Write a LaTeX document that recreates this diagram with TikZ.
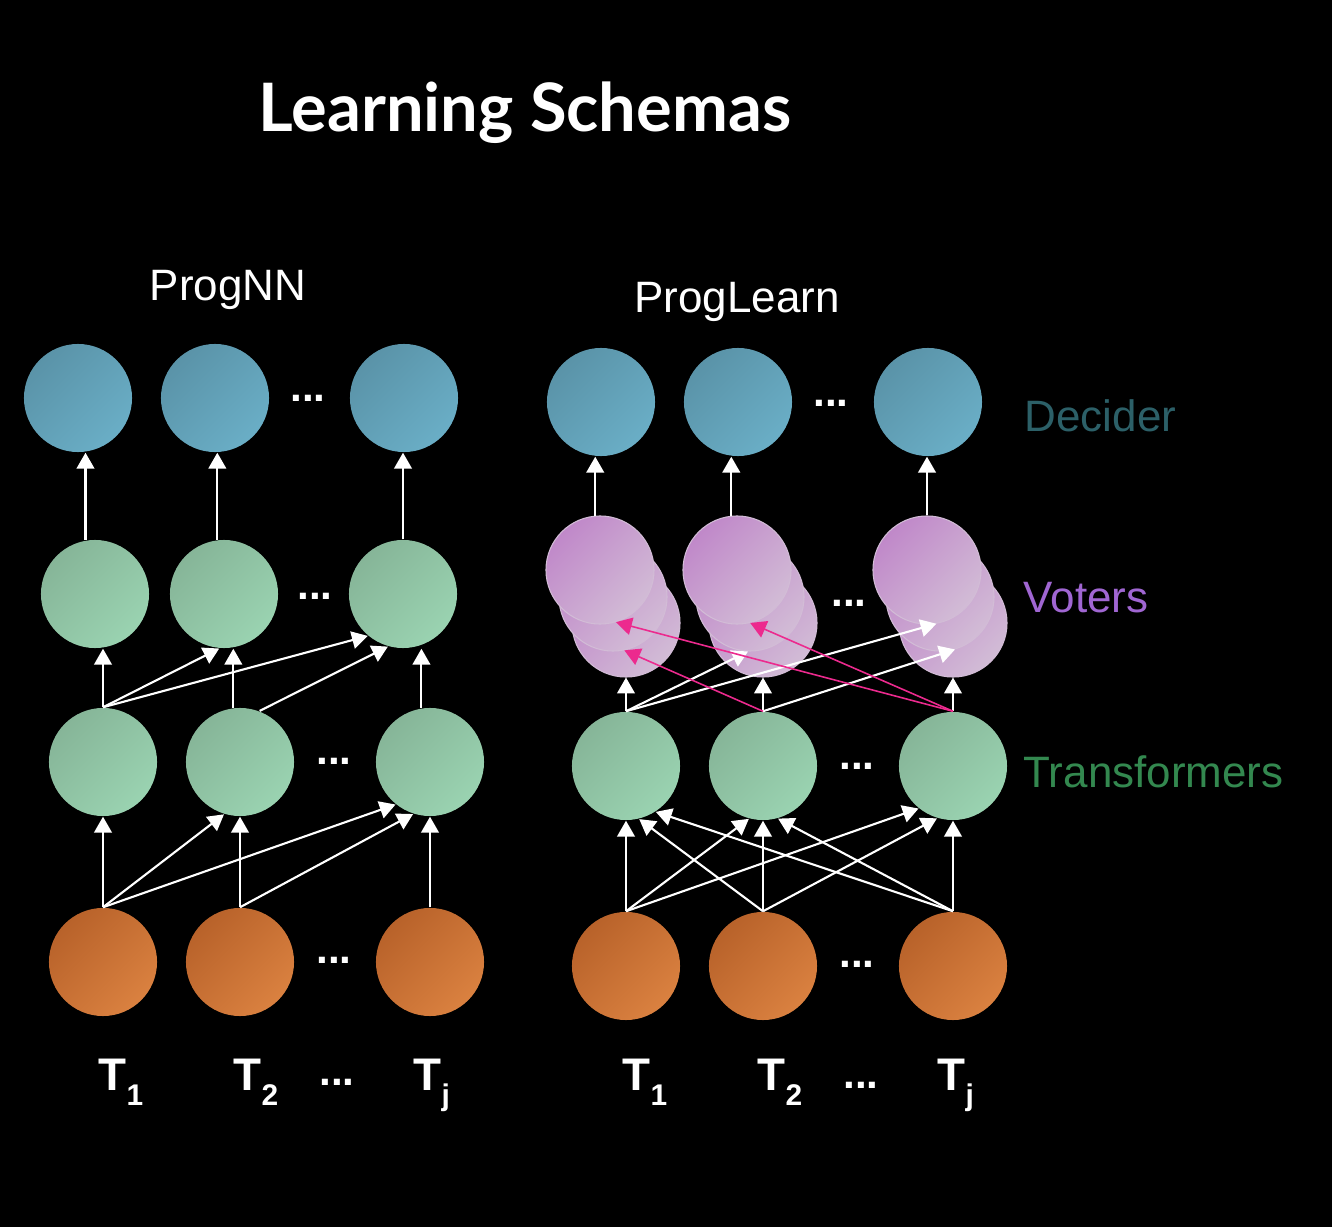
\documentclass[tikz,border=0pt]{standalone}
\usepackage{fontspec}
\setmainfont{Liberation Sans}
\newfontfamily\titlefont{Lato}
\usetikzlibrary{arrows.meta}

\definecolor{decA}{HTML}{5A93A8}
\definecolor{decB}{HTML}{6AAEC6}
\definecolor{tfmA}{HTML}{86B598}
\definecolor{tfmB}{HTML}{9AD3B1}
\definecolor{inpA}{HTML}{B8622A}
\definecolor{inpB}{HTML}{DA8140}
\definecolor{votA}{HTML}{C088C9}
\definecolor{votB}{HTML}{D2BCD6}
\definecolor{pinkarr}{HTML}{EC2A8E}
\definecolor{decText}{HTML}{2C6068}
\definecolor{votText}{HTML}{A066D2}
\definecolor{tfmText}{HTML}{33884F}

\newcommand{\tsub}[1]{\raisebox{-4.3pt}{\fontsize{8.5}{9}\selectfont #1}}

\begin{document}
\begin{tikzpicture}[x=0.01cm, y=-0.01cm,
    ball/.style={circle, minimum size=1.08cm, inner sep=0pt},
    dec/.style={ball, left color=decA, right color=decB, shading angle=45},
    tfm/.style={ball, left color=tfmA, right color=tfmB, shading angle=45},
    inp/.style={ball, left color=inpA, right color=inpB, shading angle=45},
    vot/.style={ball, left color=votA, right color=votB, shading angle=45, draw=votB, line width=0.3pt},
    arr/.style={draw=white, line width=0.6pt, -{Triangle[width=5pt,length=4.5pt]}},
    parr/.style={arr, draw=pinkarr, line width=0.45pt},
    dots/.style={text=white, font=\bfseries\fontsize{12}{12}\selectfont},
    task/.style={text=white, anchor=base west, inner sep=0pt, font=\bfseries\fontsize{13}{13}\selectfont},
    head/.style={text=white, anchor=base, inner sep=0pt, font=\fontsize{12.5}{13}\selectfont},
    layer/.style={anchor=base west, inner sep=0pt, font=\fontsize{12.5}{13}\selectfont}]
    % Background
    \fill[black] (0,0) rectangle (1332,1227);

    % Titles
    \node[text=white, anchor=base, inner sep=0pt, font=\titlefont\bfseries\fontsize{19}{21}\selectfont] (title) at (525,132) {Learning Schemas};
    \node[head] (nnHead) at (228,300) {ProgNN};
    \node[head] (plHead) at (737,312) {ProgLearn};

    % ProgNN
    \node[dec] (nd1) at (78,398) {};
    \node[dec] (nd2) at (215,398) {};
    \node[dec] (ndj) at (404,398) {};
    \node[dots] (ndDots) at (308,398) {...};

    \node[tfm] (nu1) at (95,594) {};
    \node[tfm] (nu2) at (224,594) {};
    \node[tfm] (nuj) at (403,594) {};
    \node[dots] (nuDots) at (315,596) {...};

    \node[tfm] (nt1) at (103,762) {};
    \node[tfm] (nt2) at (240,762) {};
    \node[tfm] (ntj) at (430,762) {};
    \node[dots] (ntDots) at (334,761) {...};

    \node[inp] (no1) at (103,962) {};
    \node[inp] (no2) at (240,962) {};
    \node[inp] (noj) at (430,962) {};
    \node[dots] (noDots) at (334,960) {...};

    \node[task] (nT1) at (98,1090) {T\tsub{1}};
    \node[task] (nT2) at (233,1090) {T\tsub{2}};
    \node[task] (nTj) at (413,1090) {T\tsub{j}};
    \node[dots] (nTDots) at (337,1082) {...};

    % ProgNN arrows
    \draw[arr] (nu1.100) -- (nu1.100 |- nd1.south);
    \draw[arr] (nu2.97) -- (nu2.97 |- nd2.south);
    \draw[arr] (nuj.north) -- (nuj.north |- ndj.south);

    \draw[arr] (nt1.north) -- (nt1.north |- nu1.south);
    \draw[arr] (nt2.97) -- (nt2.97 |- nu2.south);
    \draw[arr] (ntj.99) -- (ntj.99 |- nuj.south);
    \draw[arr] (nt1.north) -- (nu2.-95);
    \draw[arr] (nt1.north) -- (nuj.230);
    \draw[arr] (nt2.69) -- (nuj.254);

    \draw[arr] (no1.north) -- (nt1.south);
    \draw[arr] (no2.north) -- (nt2.south);
    \draw[arr] (noj.north) -- (ntj.south);
    \draw[arr] (no1.north) -- (nt2.253);
    \draw[arr] (no1.north) -- (ntj.231);
    \draw[arr] (no2.north) -- (ntj.252);

    % ProgLearn
    \node[dec] (pd1) at (601,402) {};
    \node[dec] (pd2) at (738,402) {};
    \node[dec] (pdj) at (928,402) {};
    \node[dots] (pdDots) at (831,403) {...};

    % voters, stacked back to front
    \foreach \name/\x in {1/600, 2/737, j/927} {
        \node[vot] (pv\name c) at (\x+26,623) {};
        \node[vot] (pv\name b) at (\x+13,597) {};
        \node[vot] (pv\name) at (\x,570) {};
    }
    \node[dots] (pvDots) at (849,603) {...};

    \node[tfm] (pt1) at (626,766) {};
    \node[tfm] (pt2) at (763,766) {};
    \node[tfm] (ptj) at (953,766) {};
    \node[dots] (ptDots) at (857,766) {...};

    \node[inp] (po1) at (626,966) {};
    \node[inp] (po2) at (763,966) {};
    \node[inp] (poj) at (953,966) {};
    \node[dots] (poDots) at (857,964) {...};

    \node[task] (pT1) at (622,1090) {T\tsub{1}};
    \node[task] (pT2) at (757,1090) {T\tsub{2}};
    \node[task] (pTj) at (937,1090) {T\tsub{j}};
    \node[dots] (pTDots) at (861,1085) {...};

    % ProgLearn arrows
    \draw[arr] (pv1.95) -- (pv1.95 |- pd1.south);
    \draw[arr] (pv2.96) -- (pv2.96 |- pd2.south);
    \draw[arr] (pvj.north) -- (pvj.north |- pdj.south);

    \draw[arr] (pt1.north) -- (pv1c.south);
    \draw[arr] (pt2.north) -- (pv2c.south);
    \draw[arr] (ptj.north) -- (pvjc.south);
    \draw[arr] (pt1.north) -- (pv2b.-92);
    \draw[arr] (pt1.north) -- (pvj.-80);
    \draw[arr] (pt2.north) -- (pvjb.-74);
    \draw[parr] (pt2.north) -- (pv1b.-78);
    \draw[parr] (ptj.north) -- (pv1.-73);
    \draw[parr] (ptj.north) -- (pv2.-76);

    \draw[arr] (po1.north) -- (pt1.south);
    \draw[arr] (po2.north) -- (pt2.south);
    \draw[arr] (poj.north) -- (ptj.south);
    \draw[arr] (po2.north) -- (pt1.-76);
    \draw[arr] (poj.north) -- (pt1.-57);
    \draw[arr] (po1.north) -- (pt2.-105);
    \draw[arr] (poj.north) -- (pt2.-74);
    \draw[arr] (po1.north) -- (ptj.231);
    \draw[arr] (po2.north) -- (ptj.253);

    % Layer names
    \node[layer, text=decText] (decLabel) at (1024,431) {Decider};
    \node[layer, text=votText] (votLabel) at (1023,612) {Voters};
    \node[layer, text=tfmText] (tfmLabel) at (1023,787) {Transformers};
\end{tikzpicture}
\end{document}
